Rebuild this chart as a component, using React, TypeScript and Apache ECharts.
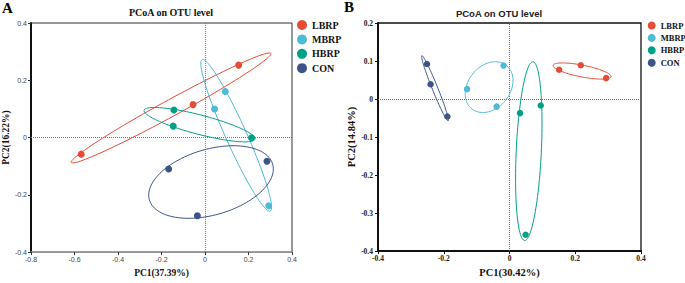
import React, { useEffect, useRef } from "react";
import * as echarts from "echarts";

const GROUPS = ["LBRP", "MBRP", "HBRP", "CON"];
const COLORS = ["#E64B35", "#4DBBD5", "#00A087", "#3C5488"];

// Panel A (PC1 37.39%, PC2 16.22%)
const A_LBRP = [[0.155, 0.253], [-0.055, 0.115], [-0.569, -0.058]];
const A_MBRP = [[0.093, 0.161], [0.044, 0.1], [0.293, -0.238]];
const A_HBRP = [[-0.143, 0.096], [-0.146, 0.04], [0.214, -0.001]];
const A_CON = [[-0.167, -0.11], [0.285, -0.083], [-0.035, -0.273]];

// Panel B (PC1 30.42%, PC2 14.84%)
const B_LBRP = [[0.151, 0.077], [0.217, 0.089], [0.294, 0.055]];
const B_MBRP = [[-0.018, 0.088], [-0.129, 0.026], [-0.039, -0.02]];
const B_HBRP = [[0.032, -0.037], [0.095, -0.017], [0.049, -0.357]];
const B_CON = [[-0.251, 0.092], [-0.24, 0.039], [-0.189, -0.046]];

const A_X_TICKS = [-0.8, -0.6, -0.4, -0.2, 0, 0.2, 0.4];
const A_Y_TICKS = [-0.4, -0.2, 0, 0.2, 0.4];
const B_X_TICKS = [-0.4, -0.2, 0, 0.2, 0.4];
const B_Y_TICKS = [-0.4, -0.3, -0.2, -0.1, 0, 0.1, 0.2];

const A_POINTS = [A_LBRP, A_MBRP, A_HBRP, A_CON];
const B_POINTS = [B_LBRP, B_MBRP, B_HBRP, B_CON];

// 68% confidence ellipse from population covariance
const CONF_K = Math.sqrt(-2 * Math.log(1 - 0.68));

function ellipseOf(pts: number[][]) {
  const n = pts.length;
  const mx = pts.reduce((s, p) => s + p[0], 0) / n;
  const my = pts.reduce((s, p) => s + p[1], 0) / n;
  let sxx = 0, syy = 0, sxy = 0;
  pts.forEach((p) => {
    sxx += (p[0] - mx) ** 2;
    syy += (p[1] - my) ** 2;
    sxy += (p[0] - mx) * (p[1] - my);
  });
  sxx /= n; syy /= n; sxy /= n;
  const tr = (sxx + syy) / 2;
  const d = Math.sqrt(((sxx - syy) / 2) ** 2 + sxy ** 2);
  const l1 = tr + d;
  const l2 = Math.max(tr - d, 0);
  const theta = 0.5 * Math.atan2(2 * sxy, sxx - syy);
  return [mx, my, CONF_K * Math.sqrt(l1), CONF_K * Math.sqrt(l2), theta];
}

function ellipseRenderer(color: string) {
  return (params: any, api: any) => {
    const cx = api.value(0), cy = api.value(1), a = api.value(2), b = api.value(3), t = api.value(4);
    const pts: number[][] = [];
    const N = 120;
    for (let i = 0; i <= N; i++) {
      const s = (i / N) * Math.PI * 2;
      const dx = a * Math.cos(s) * Math.cos(t) - b * Math.sin(s) * Math.sin(t);
      const dy = a * Math.cos(s) * Math.sin(t) + b * Math.sin(s) * Math.cos(t);
      pts.push(api.coord([cx + dx, cy + dy]));
    }
    return {
      type: "polyline",
      shape: { points: pts },
      style: { fill: "none", stroke: color, lineWidth: 1 },
      silent: true,
    };
  };
}

const SERIF = "'Liberation Serif', 'Times New Roman', serif";
const SANS = "'Liberation Sans', Arial, sans-serif";

export default function App() {
  const ref = useRef<HTMLDivElement>(null);
  useEffect(() => {
    if (!ref.current) return;
    const chart = echarts.init(ref.current, undefined, { renderer: "svg" });

    const series: any[] = [];
    const panels = [
      { pts: A_POINTS, idx: 0, size: 7, zero: "#777" },
      { pts: B_POINTS, idx: 1, size: 6.5, zero: "#666" },
    ];
    panels.forEach((p) => {
      GROUPS.forEach((g, gi) => {
        series.push({
          type: "custom",
          name: g + " ellipse " + p.idx,
          xAxisIndex: p.idx,
          yAxisIndex: p.idx,
          renderItem: ellipseRenderer(COLORS[gi]),
          data: [ellipseOf(p.pts[gi])],
          encode: { x: 0, y: 1 },
          silent: true,
          z: 2,
        });
      });
      GROUPS.forEach((g, gi) => {
        const s: any = {
          type: "scatter",
          name: g,
          xAxisIndex: p.idx,
          yAxisIndex: p.idx,
          data: p.pts[gi],
          symbol: "circle",
          symbolSize: p.size,
          itemStyle: { color: COLORS[gi], opacity: 1 },
          z: 3,
        };
        if (gi === 0) {
          s.markLine = {
            silent: true,
            symbol: ["none", "none"],
            label: { show: false },
            lineStyle: { type: "dotted", color: p.zero, width: 1 },
            data: [{ xAxis: 0 }, { yAxis: 0 }],
            z: 1,
          };
        }
        series.push(s);
      });
    });

    const aLabel = { fontSize: 7, fontFamily: SANS, color: "#444" };
    const bLabel = { fontSize: 7.5, fontFamily: SERIF, fontWeight: "bold", color: "#222" };

    chart.setOption({
      animation: false,
      backgroundColor: "#fff",
      grid: [
        { left: 31, top: 23, width: 261, height: 234, show: true, borderColor: "#333", borderWidth: 1 },
        { left: 378, top: 23, width: 263, height: 233, show: true, borderColor: "#111", borderWidth: 1.3 },
      ],
      xAxis: [
        {
          gridIndex: 0, type: "value", min: A_X_TICKS[0], max: A_X_TICKS[A_X_TICKS.length - 1], interval: 0.2,
          splitLine: { show: false },
          axisLine: { show: true, onZero: false, lineStyle: { color: "#999", width: 1.5 } },
          axisTick: { show: true, length: 3, lineStyle: { color: "#333" } },
          axisLabel: { ...aLabel, margin: 4 },
          name: "PC1(37.39%)", nameLocation: "middle", nameGap: 13,
          nameTextStyle: { fontFamily: SERIF, fontWeight: "bold", fontSize: 9.5, color: "#111" },
        },
        {
          gridIndex: 1, type: "value", min: B_X_TICKS[0], max: B_X_TICKS[B_X_TICKS.length - 1], interval: 0.2,
          splitLine: { show: false },
          axisLine: { show: true, onZero: false, lineStyle: { color: "#111", width: 2 } },
          axisTick: { show: true, length: 3, lineStyle: { color: "#111" } },
          axisLabel: { ...bLabel, margin: 3 },
          name: "PC1(30.42%)", nameLocation: "middle", nameGap: 13,
          nameTextStyle: { fontFamily: SERIF, fontWeight: "bold", fontSize: 10.5, color: "#111" },
        },
      ],
      yAxis: [
        {
          gridIndex: 0, type: "value", min: A_Y_TICKS[0], max: A_Y_TICKS[A_Y_TICKS.length - 1], interval: 0.2,
          splitLine: { show: false },
          axisLine: { show: true, onZero: false, lineStyle: { color: "#111", width: 2 } },
          axisTick: { show: true, length: 3, lineStyle: { color: "#333" } },
          axisLabel: { ...aLabel, margin: 4 },
          name: "PC2(16.22%)", nameLocation: "middle", nameGap: 18, nameRotate: 90,
          nameTextStyle: { fontFamily: SERIF, fontWeight: "bold", fontSize: 9.5, color: "#111" },
        },
        {
          gridIndex: 1, type: "value", min: B_Y_TICKS[0], max: B_Y_TICKS[B_Y_TICKS.length - 1], interval: 0.1,
          splitLine: { show: false },
          axisLine: { show: true, onZero: false, lineStyle: { color: "#111", width: 2 } },
          axisTick: { show: true, length: 3, lineStyle: { color: "#111" } },
          axisLabel: { ...bLabel, margin: 5 },
          name: "PC2(14.84%)", nameLocation: "middle", nameGap: 20, nameRotate: 90,
          nameTextStyle: { fontFamily: SERIF, fontWeight: "bold", fontSize: 10.5, color: "#111" },
        },
      ],
      legend: [
        {
          data: GROUPS, orient: "vertical", left: 297, top: 20, padding: 0, icon: "circle",
          itemWidth: 10, itemHeight: 10, itemGap: 4.4, selectedMode: false,
          textStyle: { fontFamily: SERIF, fontWeight: "bold", fontSize: 10, lineHeight: 10, color: "#111" },
        },
        {
          data: GROUPS, orient: "vertical", left: 647.7, top: 21, padding: 0, icon: "circle",
          itemWidth: 8, itemHeight: 8, itemGap: 3.4, selectedMode: false,
          textStyle: { fontFamily: SERIF, fontWeight: "bold", fontSize: 8.5, lineHeight: 8.5, color: "#111" },
        },
      ],
      graphic: [
        { type: "text", x: 171, y: 12, style: { text: "PCoA on OTU level", font: `bold 10px ${SERIF}`, fill: "#111", textAlign: "center", textVerticalAlign: "middle" } },
        { type: "text", x: 499, y: 13, style: { text: "PCoA on OTU level", font: `bold 9.5px ${SANS}`, fill: "#222", textAlign: "center", textVerticalAlign: "middle" } },
        { type: "text", x: 2, y: 8, style: { text: "A", font: `bold 15px ${SERIF}`, fill: "#000", textAlign: "left", textVerticalAlign: "middle" } },
        { type: "text", x: 344, y: 7, style: { text: "B", font: `bold 15px ${SERIF}`, fill: "#000", textAlign: "left", textVerticalAlign: "middle" } },
      ],
      series,
    });
    return () => chart.dispose();
  }, []);
  return (
    <div
      ref={ref}
      style={{ position: "absolute", left: 0, top: 0, width: 685, height: 283, background: "#fff" }}
    />
  );
}
